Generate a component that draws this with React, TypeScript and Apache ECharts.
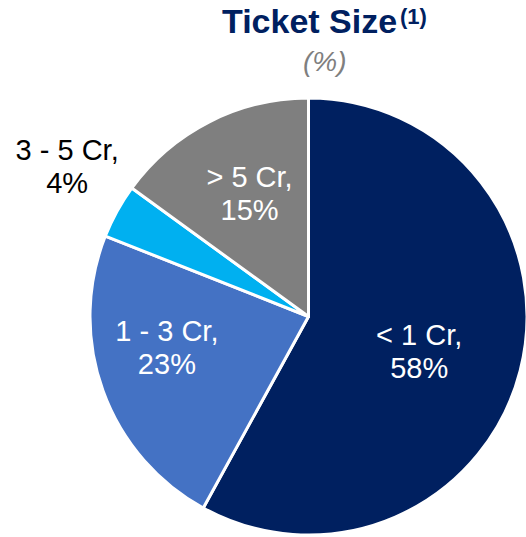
import React, { useEffect, useRef } from "react";
import * as echarts from "echarts";

const categories = ["< 1 Cr", "1 - 3 Cr", "3 - 5 Cr", "> 5 Cr"];
const shares = [58, 23, 4, 15];
const sliceColors = ["#002060", "#4472C4", "#00B0F0", "#7F7F7F"];
const labelColors = ["#FFFFFF", "#FFFFFF", "#000000", "#FFFFFF"];
const titleText = "Ticket Size";
const titleNote = "(1)";
const unitText = "(%)";

// label nudges relative to the default inside position (px)
const labelShift = [
  [2, 7],
  [-36, -7],
  [-143, -96],
  [-8, -23],
];

const FONT = "'Liberation Sans', Arial, Helvetica, sans-serif";

export default function App() {
  const ref = useRef<HTMLDivElement>(null);
  useEffect(() => {
    if (!ref.current) return;
    const chart = echarts.init(ref.current, null, { renderer: "svg" });
    chart.setOption({
      animation: false,
      backgroundColor: "#FFFFFF",
      graphic: [
        {
          type: "text",
          left: 222,
          top: 4,
          style: {
            text: titleText,
            font: `bold 34px ${FONT}`,
            fill: "#002060",
          },
        },
        {
          type: "text",
          left: 400,
          top: 5,
          style: {
            text: titleNote,
            font: `bold 22px ${FONT}`,
            fill: "#002060",
          },
        },
        {
          type: "text",
          left: 303,
          top: 47,
          style: {
            text: unitText,
            font: `italic 28px ${FONT}`,
            fill: "#7F7F7F",
          },
        },
      ],
      series: [
        {
          type: "pie",
          center: [308.5, 316.5],
          radius: [0, 218.5],
          startAngle: 90,
          clockwise: true,
          avoidLabelOverlap: false,
          itemStyle: { borderColor: "#FFFFFF", borderWidth: 3 },
          label: {
            show: true,
            position: "inside",
            formatter: "{b},\n{c}%",
            fontFamily: FONT,
            fontSize: 29,
            lineHeight: 33,
          },
          labelLine: { show: false },
          labelLayout: (params: any) => ({
            dx: labelShift[params.dataIndex][0],
            dy: labelShift[params.dataIndex][1],
          }),
          emphasis: { disabled: true },
          data: categories.map((name, i) => ({
            name,
            value: shares[i],
            itemStyle: { color: sliceColors[i] },
            label: { color: labelColors[i] },
          })),
        },
      ],
    });
    return () => chart.dispose();
  }, []);
  return (
    <div
      ref={ref}
      style={{ position: "absolute", left: 0, top: 0, width: 526, height: 537 }}
    />
  );
}
